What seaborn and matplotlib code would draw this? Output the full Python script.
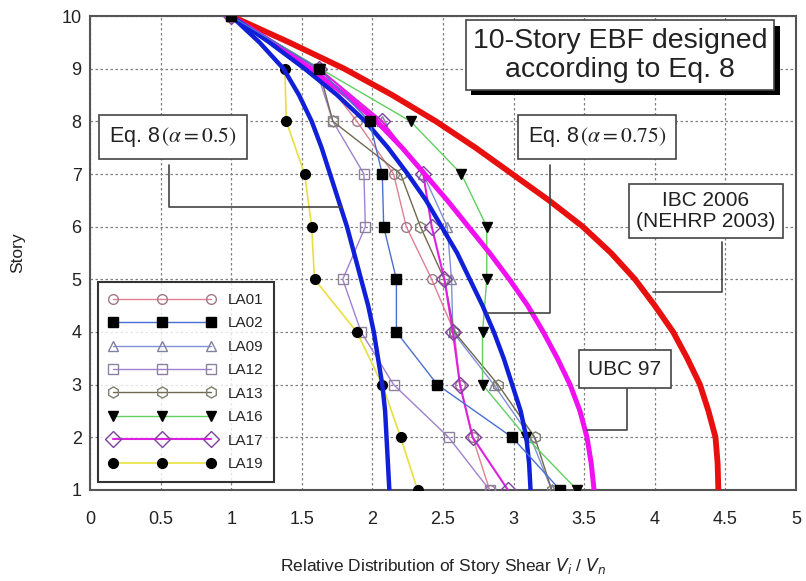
import matplotlib
matplotlib.use("Agg")
import matplotlib.pyplot as plt
import matplotlib.patheffects as pe
import numpy as np
import pandas as pd
import seaborn as sns

# ---------------- data ----------------
stories = [1, 2, 3, 4, 5, 6, 7, 8, 9, 10]

la01 = [2.83, 2.71, 2.62, 2.58, 2.42, 2.24, 2.15, 1.89, 1.60, 1.0]
la02 = [3.33, 2.99, 2.46, 2.17, 2.17, 2.08, 2.07, 1.98, 1.62, 1.0]
la09 = [3.27, 3.12, 2.86, 2.57, 2.56, 2.53, 2.36, 2.07, 1.62, 1.0]
la12 = [2.83, 2.54, 2.15, 1.92, 1.79, 1.95, 1.94, 1.72, 1.60, 1.0]
la13 = [3.27, 3.15, 2.89, 2.58, 2.51, 2.34, 2.20, 1.72, 1.62, 1.0]
la16 = [3.45, 3.09, 2.78, 2.78, 2.81, 2.81, 2.63, 2.27, 1.63, 1.0]
la17 = [2.96, 2.71, 2.62, 2.57, 2.51, 2.42, 2.36, 2.07, 1.62, 1.0]
la19 = [2.32, 2.20, 2.07, 1.89, 1.59, 1.57, 1.52, 1.39, 1.38, 1.0]

# design curves, read at every half story
curve_levels = [1, 1.5, 2, 2.5, 3, 3.5, 4, 4.5, 5, 5.5, 6, 6.5, 7, 7.5, 8, 8.5, 9, 9.5, 10]
ibc2006 = [4.45, 4.445, 4.43, 4.38, 4.32, 4.23, 4.13, 4.00, 3.86, 3.69, 3.49, 3.25,
           2.99, 2.73, 2.45, 2.14, 1.80, 1.41, 1.0]
ubc97 = [3.57, 3.55, 3.52, 3.47, 3.40, 3.31, 3.21, 3.10, 2.97, 2.83, 2.68, 2.53,
         2.37, 2.21, 2.03, 1.81, 1.56, 1.29, 1.0]
eq8_075 = [3.12, 3.11, 3.09, 3.05, 2.99, 2.93, 2.86, 2.78, 2.69, 2.60, 2.49, 2.38,
           2.25, 2.11, 1.95, 1.75, 1.52, 1.27, 1.0]
eq8_05 = [2.12, 2.11, 2.10, 2.09, 2.07, 2.04, 2.01, 1.97, 1.92, 1.87, 1.82, 1.76,
          1.70, 1.64, 1.57, 1.48, 1.37, 1.20, 1.0]

record_names = ["LA01", "LA02", "LA09", "LA12", "LA13", "LA16", "LA17", "LA19"]
record_values = [la01, la02, la09, la12, la13, la16, la17, la19]

x_ticks = [0, 0.5, 1, 1.5, 2, 2.5, 3, 3.5, 4, 4.5, 5]
x_tick_labels = ["0", "0.5", "1", "1.5", "2", "2.5", "3", "3.5", "4", "4.5", "5"]
y_ticks = [1, 2, 3, 4, 5, 6, 7, 8, 9, 10]

# ---------------- styles ----------------
rec_styles = {
    "LA01": dict(color="#e08090", marker="o", mfc="none", mec="#a07888", ms=7, lw=1.0, z=3),
    "LA02": dict(color="#4a6fd0", marker="s", mfc="black", mec="black", ms=7, lw=1.0, z=6),
    "LA09": dict(color="#8090d8", marker="^", mfc="none", mec="#8080a0", ms=7, lw=1.0, z=3),
    "LA12": dict(color="#a080d0", marker="s", mfc="none", mec="#9080a0", ms=7, lw=1.0, z=3),
    "LA13": dict(color="#706850", marker="h", mfc="none", mec="#808070", ms=8, lw=1.0, z=3),
    "LA16": dict(color="#60d060", marker="v", mfc="black", mec="black", ms=7, lw=1.0, z=4),
    "LA17": dict(color="#e020e0", marker="D", mfc="none", mec="#8040a0", ms=8, lw=1.5, z=3),
    "LA19": dict(color="#e8e040", marker="o", mfc="black", mec="black", ms=7, lw=1.2, z=4),
}

sns.set_theme(style="white")
plt.rcParams["font.family"] = ["Liberation Sans", "DejaVu Sans"]

fig = plt.figure(figsize=(8.06, 5.81), dpi=100)
ax = fig.add_axes([90 / 806, 1 - 490 / 581, 706 / 806, 474 / 581])

handles = []
for name, vals in zip(record_names, record_values):
    st = rec_styles[name]
    df = pd.DataFrame({"v": vals, "story": stories})
    sns.lineplot(data=df, x="v", y="story", sort=False, estimator=None, ax=ax,
                 color=st["color"], lw=st["lw"], marker=st["marker"],
                 markerfacecolor=st["mfc"], markeredgecolor=st["mec"],
                 markersize=st["ms"], markeredgewidth=1.0,
                 zorder=st["z"], legend=False)
    handles.append(ax.lines[-1])
    ax.lines[-1].set_label(name)

curves = [
    (ibc2006, "#e8100e", 4.2),
    (ubc97, "#f010f0", 3.6),
    (eq8_075, "#1020d8", 3.2),
    (eq8_05, "#1020d8", 3.2),
]
for vals, col, lw in curves:
    df = pd.DataFrame({"v": vals, "story": curve_levels})
    sns.lineplot(data=df, x="v", y="story", sort=False, estimator=None, ax=ax,
                 color=col, lw=lw, zorder=5, legend=False)

ax.set_xlim(0, 5)
ax.set_ylim(1, 10)
ax.set_xticks(x_ticks)
ax.set_xticklabels(x_tick_labels)
ax.set_yticks(y_ticks)
ax.tick_params(axis="both", labelsize=13, direction="in", length=4, colors="#333333",
               labelcolor="#222222")
ax.tick_params(axis="x", pad=15)
ax.tick_params(axis="y", pad=6)
ax.grid(True, color="#808080", linestyle=(0, (2, 2)), lw=0.9)
for sp in ax.spines.values():
    sp.set_color("#555555")
    sp.set_linewidth(1.5)

ax.set_xlabel(r"Relative Distribution of Story Shear $V_i$ / $V_n$", fontsize=12.5,
              labelpad=20, color="#222222")
ax.set_ylabel("Story", fontsize=12.5, labelpad=26, color="#222222")

# legend
leg = ax.legend(handles=handles, loc="lower left", bbox_to_anchor=(0.011, 0.017),
                numpoints=3, handlelength=7.0, fontsize=11, labelspacing=0.62,
                frameon=True, fancybox=False, borderpad=0.7, handletextpad=0.8,
                borderaxespad=0)
leg.get_frame().set_edgecolor("black")
leg.get_frame().set_linewidth(1.5)
leg.set_zorder(10)


def px2data(px, py):
    return (px - 90) / 141.2, 1 + (490 - py) / 52.67


box_kw = dict(boxstyle="square,pad=0.45", fc="white", ec="#444444", lw=1.2)

# leader lines
leaders = [
    [(169, 165), (169, 207), (342, 207)],
    [(550, 165), (550, 313), (487, 313)],
    [(722, 242), (722, 292), (653, 292)],
    [(627, 388), (627, 430), (587, 430)],
]
for pts in leaders:
    xs, ys = zip(*[px2data(*p) for p in pts])
    ax.plot(xs, ys, color="#444444", lw=1.2, zorder=6)

# title box with drop shadow
tx, ty = px2data(620, 55)
t = ax.text(tx, ty, "10-Story EBF designed\naccording to Eq. 8", ha="center",
            va="center", fontsize=20.5, color="#222222", linespacing=1.15,
            bbox=dict(boxstyle="square,pad=0.25", fc="white", ec="#444444", lw=1.2),
            zorder=8)
t.get_bbox_patch().set_path_effects([
    pe.SimplePatchShadow(offset=(4, -4), shadow_rgbFace="black", alpha=1.0),
    pe.Normal()])

x, y = px2data(173, 137)
ax.text(x, y, r"Eq. 8$\,\left(\alpha = 0.5\right)$", ha="center", va="center",
        fontsize=15.5, color="#222222", math_fontfamily="stix", bbox=box_kw, zorder=8)
x, y = px2data(597, 137)
ax.text(x, y, r"Eq. 8$\,\left(\alpha = 0.75\right)$", ha="center", va="center",
        fontsize=15.5, color="#222222", math_fontfamily="stix", bbox=box_kw, zorder=8)
x, y = px2data(706, 211)
ax.text(x, y, "IBC 2006\n(NEHRP 2003)", ha="center", va="center", fontsize=15,
        color="#222222", linespacing=1.15,
        bbox=dict(boxstyle="square,pad=0.35", fc="white", ec="#444444", lw=1.2), zorder=8)
x, y = px2data(625, 369)
ax.text(x, y, "UBC 97", ha="center", va="center", fontsize=15, color="#222222",
        bbox=dict(boxstyle="square,pad=0.45", fc="white", ec="#444444", lw=1.2), zorder=8)

fig.savefig("out.png", dpi=100)
